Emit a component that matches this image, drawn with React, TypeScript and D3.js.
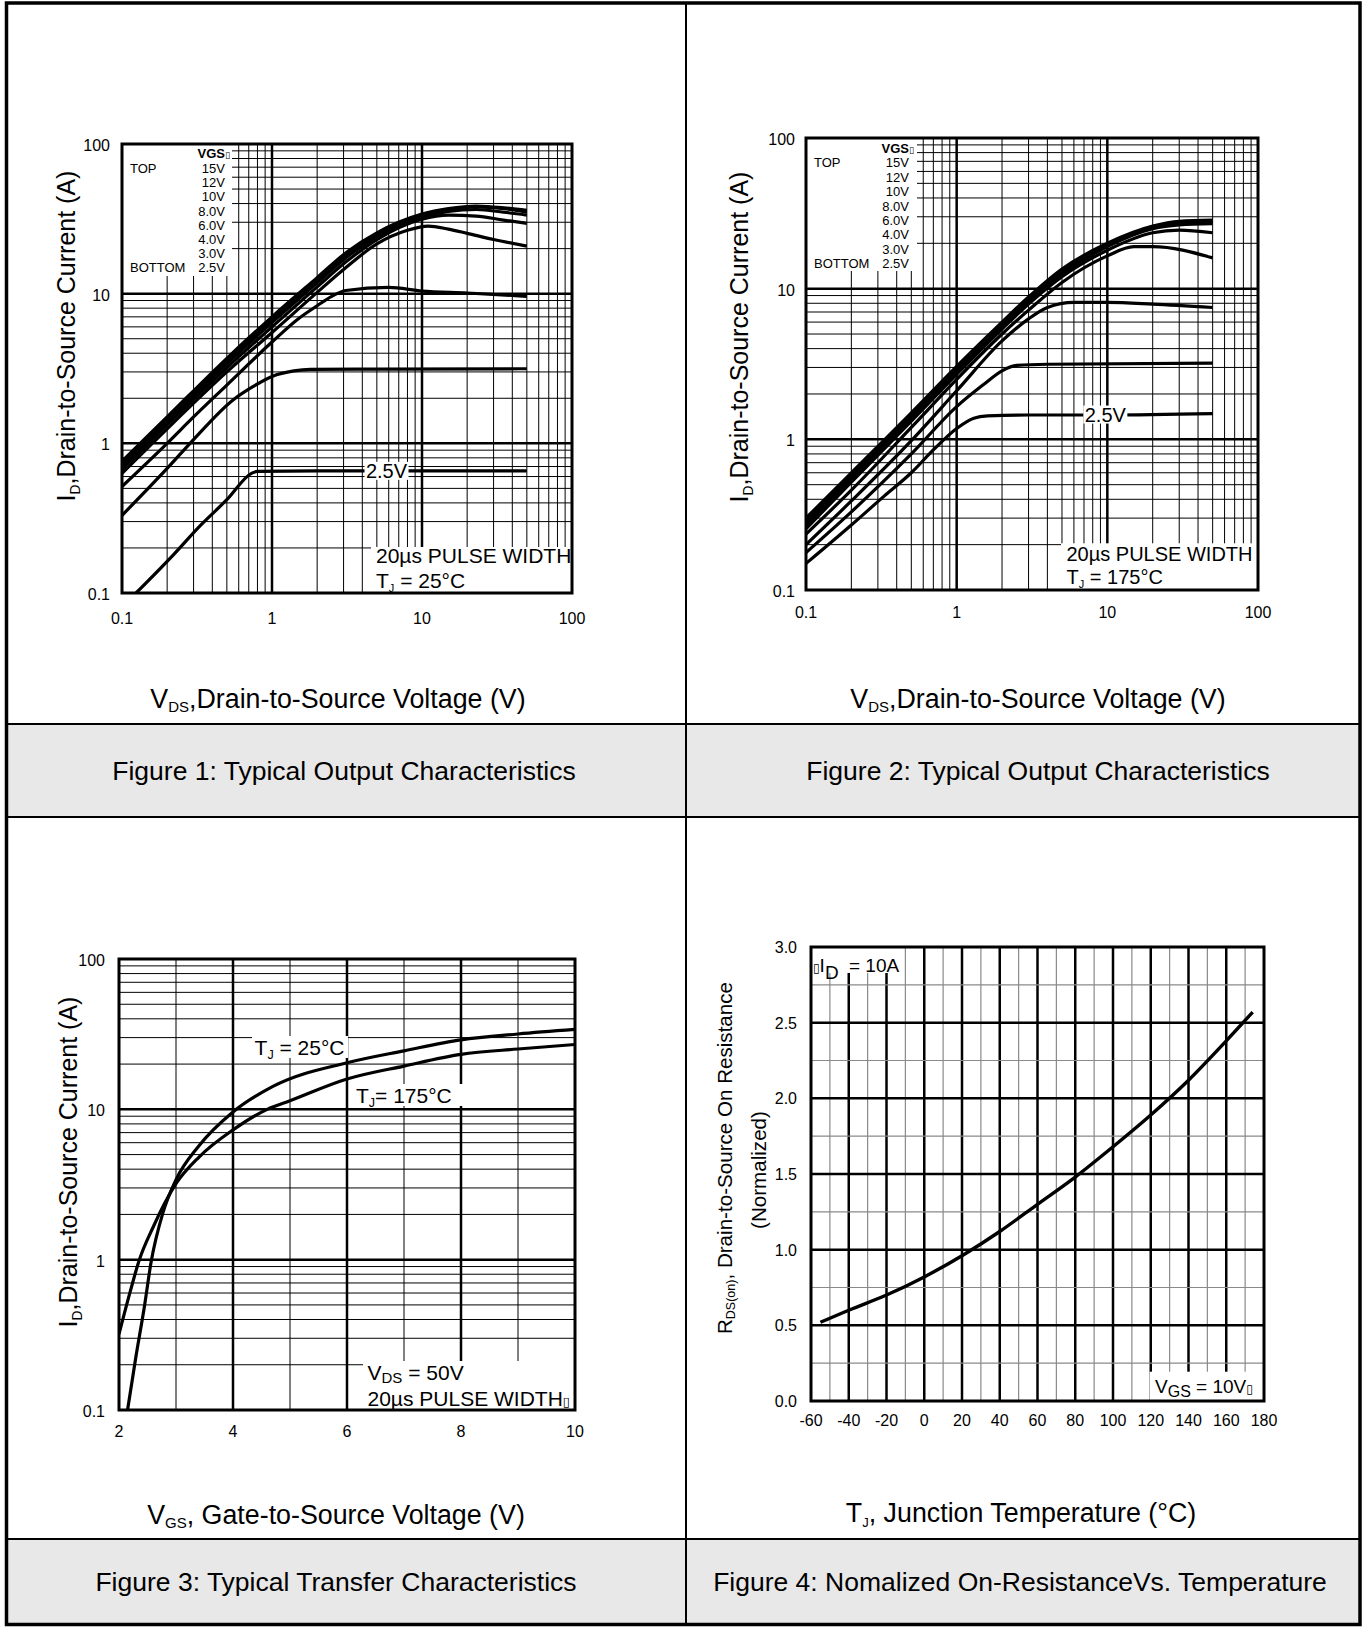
import React from 'react';
import * as d3 from 'd3';

type Pt = [number, number];

const FONT = '"Liberation Sans", Arial, Helvetica, sans-serif';
const TOFU = '\u25AF';
const W = 1364;
const H = 1627;

// shared by figures 1 and 2 (log-log axes)
const logTicks = [0.1, 1, 10, 100];
const logTickLabels = ['0.1', '1', '10', '100'];
const vgsLabels = ['15V', '12V', '10V', '8.0V', '6.0V', '4.0V', '3.0V', '2.5V'];

// Figure 1, TJ = 25°C : [VDS (V), ID (A)]
const fig1Vgs15: Pt[] = [[0.1, 0.76], [0.2, 1.5], [0.5, 3.7], [1, 7.0], [2, 12.8], [3.16, 19], [5, 25.5], [10, 34], [15, 37], [23, 38.5], [35, 37.5], [50, 36]];
const fig1Vgs12: Pt[] = [[0.1, 0.73], [0.2, 1.45], [0.5, 3.55], [1, 6.7], [2, 12.3], [3.16, 18.3], [5, 24.8], [10, 33.2], [15, 36.5], [23, 38], [35, 37], [50, 35]];
const fig1Vgs10: Pt[] = [[0.1, 0.7], [0.2, 1.4], [0.5, 3.4], [1, 6.4], [2, 11.8], [3.16, 17.6], [5, 24], [10, 32.5], [15, 35.5], [23, 36.5], [35, 35], [50, 33.5]];
const fig1Vgs8: Pt[] = [[0.1, 0.67], [0.2, 1.33], [0.5, 3.2], [1, 6.0], [2, 11.1], [3.16, 16.5], [5, 23], [10, 31.5], [15, 33.5], [23, 33], [35, 31], [50, 29.5]];
const fig1Vgs6: Pt[] = [[0.1, 0.63], [0.2, 1.25], [0.5, 3.0], [1, 5.5], [2, 10.2], [3, 14.5], [5, 21.5], [8, 26.5], [11, 28.3], [15, 27], [20, 25.3], [30, 23], [50, 20.8]];
const fig1Vgs4: Pt[] = [[0.1, 0.515], [0.2, 1.0], [0.3, 1.5], [0.5, 2.45], [1, 4.75], [1.5, 6.8], [2, 8.3], [2.5, 9.6], [3.1, 10.5], [6, 11], [10, 10.4], [20, 10.1], [50, 9.6]];
const fig1Vgs3: Pt[] = [[0.1, 0.33], [0.2, 0.68], [0.3, 1.06], [0.55, 1.95], [0.75, 2.4], [1, 2.8], [1.4, 3.05], [1.8, 3.12], [5, 3.13], [50, 3.15]];
const fig1Vgs25: Pt[] = [[0.124, 0.1], [0.22, 0.18], [0.33, 0.28], [0.5, 0.42], [0.73, 0.63], [0.8, 0.65], [2, 0.655], [10, 0.655], [50, 0.655]];

// Figure 2, TJ = 175°C
const fig2Vgs15: Pt[] = [[0.1, 0.3], [0.2, 0.6], [0.5, 1.5], [1, 3.05], [2, 6.0], [3, 8.8], [5, 13.5], [10, 20], [20, 26], [30, 28], [50, 28.5]];
const fig2Vgs12: Pt[] = [[0.1, 0.285], [0.2, 0.57], [0.5, 1.45], [1, 2.95], [2, 5.8], [3, 8.5], [5, 13], [10, 19.5], [20, 25.5], [30, 27.5], [50, 28]];
const fig2Vgs10: Pt[] = [[0.1, 0.27], [0.2, 0.55], [0.5, 1.4], [1, 2.85], [2, 5.6], [3, 8.2], [5, 12.5], [10, 19], [20, 25], [30, 26.5], [50, 27]];
const fig2Vgs8: Pt[] = [[0.1, 0.255], [0.2, 0.52], [0.5, 1.32], [1, 2.7], [2, 5.4], [3, 7.9], [5, 12], [10, 18], [20, 23.5], [30, 24.5], [50, 23.5]];
const fig2Vgs6: Pt[] = [[0.1, 0.235], [0.2, 0.46], [0.5, 1.2], [1, 2.5], [2, 5.0], [3, 7.2], [5, 11], [10, 16.5], [15, 19], [20, 19], [50, 16]];
const fig2Vgs4: Pt[] = [[0.1, 0.2], [0.2, 0.39], [0.5, 0.98], [1, 2.1], [2, 4.5], [3, 6.3], [4, 7.5], [6, 8.1], [10, 8.1], [20, 7.9], [50, 7.5]];
const fig2Vgs3: Pt[] = [[0.1, 0.177], [0.2, 0.33], [0.5, 0.8], [1, 1.65], [1.5, 2.3], [2, 2.85], [2.5, 3.1], [4, 3.15], [50, 3.2]];
const fig2Vgs25: Pt[] = [[0.1, 0.15], [0.2, 0.27], [0.33, 0.42], [0.5, 0.6], [0.7, 0.85], [1, 1.18], [1.3, 1.38], [1.6, 1.43], [3, 1.45], [10, 1.45], [50, 1.48]];

// Figure 3, transfer: VGS (V) -> ID (A), VDS = 50V
const fig3Vgs25 = [2.15, 2.3, 2.45, 2.56, 2.77, 3, 3.4, 4, 4.7, 6, 7, 8, 9, 10];
const fig3Id25 = [0.1, 0.23, 0.5, 0.95, 2.05, 3.4, 5.7, 9.6, 14.2, 20.4, 24.5, 29, 31.7, 34];
const fig3Vgs175 = [2, 2.2, 2.35, 2.6, 3, 3.4, 4, 4.6, 5, 6, 7, 8, 9, 10];
const fig3Id175 = [0.32, 0.62, 0.98, 1.65, 3.2, 4.8, 7.3, 10, 11.4, 15.9, 19.4, 23.2, 25.2, 27];
const fig3XTicks = [2, 4, 6, 8, 10];

// Figure 4, normalized RDS(on) vs TJ
const fig4Temp = [-55, -40, -20, 0, 20, 40, 60, 80, 100, 120, 140, 160, 174];
const fig4Rds = [0.52, 0.6, 0.7, 0.82, 0.96, 1.12, 1.3, 1.48, 1.68, 1.89, 2.12, 2.38, 2.57];
const fig4XTicks = [-60, -40, -20, 0, 20, 40, 60, 80, 100, 120, 140, 160, 180];
const fig4YTicks = [0, 0.5, 1, 1.5, 2, 2.5, 3];
const fig4YLabels = ['0.0', '0.5', '1.0', '1.5', '2.0', '2.5', '3.0'];

const isDecade = (v: number) => Math.abs(Math.log10(v) - Math.round(Math.log10(v))) < 1e-9;

function YTitleID({ cx, cy }: { cx: number; cy: number }) {
  const fs = 25;
  return (
    <text transform={`translate(${cx},${cy}) rotate(-90)`} y={fs * 0.36} textAnchor="middle" fontSize={fs}>
      I<tspan fontSize={fs * 0.55} dy={fs * 0.18}>D</tspan>
      <tspan dy={-fs * 0.18}>,Drain-to-Source Current (A)</tspan>
    </text>
  );
}

function OutputChart(props: any) {
  const { id, x0, y0, w, h, series, tagAt, tj, lg, pb, yGap, xBase, yTitle, xTitle } = props;
  const x = d3.scaleLog().domain([0.1, 100]).range([x0, x0 + w]);
  const y = d3.scaleLog().domain([0.1, 100]).range([y0 + h, y0]);
  const line = d3.line<Pt>().x(d => x(d[0])).y(d => y(d[1])).curve(d3.curveMonotoneX);
  const inner = x.ticks().filter(v => v > 0.1001 && v < 99.99);
  const tx = x(tagAt[0]);
  const ty = y(tagAt[1]);
  const right = x0 + w;
  const bottom = y0 + h;

  return (
    <g fontFamily={FONT}>
      <defs>
        <clipPath id={id}><rect x={x0} y={y0} width={w} height={h} /></clipPath>
      </defs>
      {inner.map(v => (
        <line key={'gx' + v} x1={x(v)} x2={x(v)} y1={y0} y2={bottom} stroke="#000" strokeWidth={isDecade(v) ? 2.5 : 1} />
      ))}
      {inner.map(v => (
        <line key={'gy' + v} x1={x0} x2={right} y1={y(v)} y2={y(v)} stroke="#000" strokeWidth={isDecade(v) ? 2.5 : 1} />
      ))}
      <rect x={x0} y={y0} width={lg.bw} height={lg.bh} fill="#fff" />
      <rect x={right - pb.bw} y={bottom - pb.bh} width={pb.bw} height={pb.bh} fill="#fff" />

      <g clipPath={`url(#${id})`}>
        {series.map((s: Pt[], i: number) => (
          <path key={i} d={line(s) || ''} fill="none" stroke="#000" strokeWidth={3.2} strokeLinejoin="round" />
        ))}
      </g>

      <rect x={tx - 22} y={ty - 9} width={44} height={18} fill="#fff" />
      <text x={tx} y={ty + 7} textAnchor="middle" fontSize={20}>2.5V</text>

      <rect x={x0} y={y0} width={w} height={h} fill="none" stroke="#000" strokeWidth={3} />

      {/* VGS legend */}
      <g fontSize={13}>
        <text x={x0 + 8} y={y0 + lg.first}>TOP</text>
        <text x={x0 + 8} y={y0 + lg.first + lg.step * 7}>BOTTOM</text>
        <text x={x0 + 108} y={y0 + lg.head} textAnchor="end" fontWeight="bold">
          VGS<tspan fontFamily="DejaVu Sans" fontWeight="normal" fontSize={9}>{TOFU}</tspan>
        </text>
        {vgsLabels.map((t, i) => (
          <text key={t} x={x0 + 103} y={y0 + lg.first + lg.step * i} textAnchor="end">{t}</text>
        ))}
      </g>

      {/* pulse note */}
      <g fontSize={pb.fs}>
        <text x={right - pb.bw + pb.dx} y={bottom - pb.b1}>20µs PULSE WIDTH</text>
        <text x={right - pb.bw + pb.dx} y={bottom - pb.b2}>
          T<tspan fontSize={11} dy={4}>J</tspan><tspan dy={-4}> = {tj}</tspan>
        </text>
      </g>

      {/* tick labels */}
      <g fontSize={16}>
        {logTicks.map((v, i) => (
          <text key={'yl' + v} x={x0 - yGap} y={y(v) + 7} textAnchor="end">{logTickLabels[i]}</text>
        ))}
        {logTicks.map((v, i) => (
          <text key={'xl' + v} x={x(v)} y={xBase} textAnchor="middle">{logTickLabels[i]}</text>
        ))}
      </g>

      <YTitleID cx={yTitle[0]} cy={yTitle[1]} />
      <text x={xTitle[0]} y={xTitle[1]} textAnchor="middle" fontSize={26.8}>
        V<tspan fontSize={15} dy={4}>DS</tspan><tspan dy={-4}>,Drain-to-Source Voltage (V)</tspan>
      </text>
    </g>
  );
}

function TransferChart() {
  const x0 = 119, y0 = 959, w = 456, h = 451;
  const right = x0 + w, bottom = y0 + h;
  const x = d3.scaleLinear().domain([2, 10]).range([x0, right]);
  const y = d3.scaleLog().domain([0.1, 100]).range([bottom, y0]);
  const line = d3.line<Pt>().x(d => x(d[0])).y(d => y(d[1])).curve(d3.curveMonotoneX);
  const vLines = d3.range(3, 10);
  const hLines = y.ticks().filter(v => v > 0.1001 && v < 99.99);
  const s25 = d3.zip(fig3Vgs25, fig3Id25) as Pt[];
  const s175 = d3.zip(fig3Vgs175, fig3Id175) as Pt[];

  return (
    <g fontFamily={FONT}>
      <defs>
        <clipPath id="clip3"><rect x={x0} y={y0} width={w} height={h} /></clipPath>
      </defs>
      {vLines.map(v => (
        <line key={'gx' + v} x1={x(v)} x2={x(v)} y1={y0} y2={bottom} stroke="#000" strokeWidth={v % 2 === 0 ? 2.5 : 1} />
      ))}
      {hLines.map(v => (
        <line key={'gy' + v} x1={x0} x2={right} y1={y(v)} y2={y(v)} stroke="#000" strokeWidth={isDecade(v) ? 2.5 : 1} />
      ))}
      <rect x={363} y={1361} width={right - 363} height={bottom - 1361} fill="#fff" />
      <g clipPath="url(#clip3)">
        {[s25, s175].map((s, i) => (
          <path key={i} d={line(s) || ''} fill="none" stroke="#000" strokeWidth={3.2} strokeLinejoin="round" />
        ))}
      </g>
      <rect x={x0} y={y0} width={w} height={h} fill="none" stroke="#000" strokeWidth={3} />

      <g fontSize={21}>
        <rect x={252} y={1036} width={96} height={22} fill="#fff" />
        <text x={254.6} y={1055}>
          T<tspan fontSize={12.5} dy={4}>J</tspan><tspan dy={-4}> = 25°C</tspan>
        </text>
        <rect x={353.5} y={1084} width={110} height={22} fill="#fff" />
        <text x={356} y={1102.7}>
          T<tspan fontSize={12.5} dy={4}>J</tspan><tspan dy={-4}>= 175°C</tspan>
        </text>
        <text x={367.5} y={1380}>
          V<tspan fontSize={15} dy={2.5}>DS</tspan><tspan dy={-2.5}> = 50V</tspan>
        </text>
        <text x={367.5} y={1406}>
          20µs PULSE WIDTH<tspan fontFamily="DejaVu Sans" fontSize={13}>{TOFU}</tspan>
        </text>
      </g>

      <g fontSize={16}>
        {logTicks.map((v, i) => (
          <text key={'yl' + v} x={x0 - 14} y={y(v) + 7} textAnchor="end">{logTickLabels[i]}</text>
        ))}
        {fig3XTicks.map(v => (
          <text key={'xl' + v} x={x(v)} y={1437} textAnchor="middle">{v}</text>
        ))}
      </g>

      <YTitleID cx={68} cy={1162} />
      <text x={336} y={1524} textAnchor="middle" fontSize={26.8}>
        V<tspan fontSize={15} dy={4}>GS</tspan><tspan dy={-4}>, Gate-to-Source Voltage (V)</tspan>
      </text>
    </g>
  );
}

function ResistanceChart() {
  const x0 = 811, y0 = 947, w = 453, h = 454;
  const right = x0 + w, bottom = y0 + h;
  const x = d3.scaleLinear().domain([-60, 180]).range([x0, right]);
  const y = d3.scaleLinear().domain([0, 3]).range([bottom, y0]);
  const line = d3.line<Pt>().x(d => x(d[0])).y(d => y(d[1])).curve(d3.curveMonotoneX);
  const vLines = d3.range(-50, 180, 10);
  const hLines = d3.range(0.25, 3, 0.25);
  const curve = d3.zip(fig4Temp, fig4Rds) as Pt[];

  return (
    <g fontFamily={FONT}>
      {vLines.map(v => {
        const major = Math.abs(v % 20) === 0;
        return <line key={'gx' + v} x1={x(v)} x2={x(v)} y1={y0} y2={bottom} stroke={major ? '#000' : '#8a8a8a'} strokeWidth={major ? 2.5 : 1.2} />;
      })}
      {hLines.map(v => {
        const major = Math.abs((v * 2) % 1) < 1e-9;
        return <line key={'gy' + v} x1={x0} x2={right} y1={y(v)} y2={y(v)} stroke={major ? '#000' : '#8a8a8a'} strokeWidth={major ? 2.5 : 1.2} />;
      })}
      <rect x={x0} y={y0} width={92} height={26} fill="#fff" />
      <rect x={1149.6} y={1371.7} width={right - 1149.6} height={bottom - 1371.7} fill="#fff" />
      <path d={line(curve) || ''} fill="none" stroke="#000" strokeWidth={3.4} strokeLinejoin="round" />
      <rect x={x0} y={y0} width={w} height={h} fill="none" stroke="#000" strokeWidth={3} />

      <g fontSize={19}>
        <text x={813} y={971.5}>
          <tspan fontFamily="DejaVu Sans" fontSize={12}>{TOFU}</tspan>I<tspan dy={7}>D</tspan>
          <tspan x={849} dy={-7}>= 10A</tspan>
        </text>
        <text x={1155} y={1393.3}>
          V<tspan fontSize={16} dy={4}>GS</tspan><tspan dy={-4}> = 10V</tspan>
          <tspan fontFamily="DejaVu Sans" fontSize={12}>{TOFU}</tspan>
        </text>
      </g>

      <g fontSize={16}>
        {fig4YTicks.map((v, i) => (
          <text key={'yl' + v} x={797} y={y(v) + 6} textAnchor="end">{fig4YLabels[i]}</text>
        ))}
        {fig4XTicks.map(v => (
          <text key={'xl' + v} x={x(v)} y={1426} textAnchor="middle">{v}</text>
        ))}
      </g>

      <text transform={`translate(731.5,1158) rotate(-90)`} textAnchor="middle" fontSize={20.6}>
        R<tspan fontSize={12.5} dy={3}>DS(on)</tspan><tspan dy={-3}>, Drain-to-Source On Resistance</tspan>
      </text>
      <text transform={`translate(765.5,1170) rotate(-90)`} textAnchor="middle" fontSize={20.6}>(Normalized)</text>

      <text x={1021} y={1522} textAnchor="middle" fontSize={26.8}>
        T<tspan fontSize={13} dy={5}>J</tspan><tspan dy={-5}>, Junction Temperature (°C)</tspan>
      </text>
    </g>
  );
}

export default function App() {
  return (
    <svg width={W} height={H} style={{ position: 'absolute', left: 0, top: 0 }} fontFamily={FONT}>
      <rect x={0} y={0} width={W} height={H} fill="#fff" />
      {/* caption bands */}
      <rect x={6.5} y={724} width={1353.5} height={93} fill="#e8e8e8" />
      <rect x={6.5} y={1539} width={1353.5} height={85.5} fill="#e8e8e8" />
      <line x1={686} x2={686} y1={3} y2={1624.5} stroke="#000" strokeWidth={2} />
      {[724, 817, 1539].map(v => (
        <line key={v} x1={6.5} x2={1360} y1={v} y2={v} stroke="#000" strokeWidth={2} />
      ))}
      <rect x={6.5} y={3} width={1353.5} height={1621.5} fill="none" stroke="#000" strokeWidth={3.5} />

      <OutputChart
        id="clip1" x0={122} y0={144} w={450} h={449}
        series={[fig1Vgs15, fig1Vgs12, fig1Vgs10, fig1Vgs8, fig1Vgs6, fig1Vgs4, fig1Vgs3, fig1Vgs25]}
        tagAt={[5.8, 0.655]} tj="25°C"
        lg={{ bw: 110, bh: 132, head: 14, first: 29, step: 14.2 }}
        pb={{ bw: 201, bh: 46, dx: 5, b1: 30, b2: 5, fs: 21 }}
        yGap={12} xBase={624} yTitle={[66, 336]} xTitle={[338, 708]}
      />
      <OutputChart
        id="clip2" x0={806} y0={138} w={452} h={452}
        series={[fig2Vgs15, fig2Vgs12, fig2Vgs10, fig2Vgs8, fig2Vgs6, fig2Vgs4, fig2Vgs3, fig2Vgs25]}
        tagAt={[9.7, 1.46]} tj="175°C"
        lg={{ bw: 111, bh: 133, head: 15, first: 29.4, step: 14.4 }}
        pb={{ bw: 197, bh: 46.7, dx: 5.5, b1: 29, b2: 5.7, fs: 20 }}
        yGap={11} xBase={618} yTitle={[739, 337]} xTitle={[1038, 708]}
      />
      <TransferChart />
      <ResistanceChart />

      <g fontSize={26.5} textAnchor="middle">
        <text x={344} y={780}>Figure 1: Typical Output Characteristics</text>
        <text x={1038} y={780}>Figure 2: Typical Output Characteristics</text>
        <text x={336} y={1591}>Figure 3: Typical Transfer Characteristics</text>
        <text x={1020} y={1591}>Figure 4: Nomalized On-ResistanceVs. Temperature</text>
      </g>
    </svg>
  );
}
